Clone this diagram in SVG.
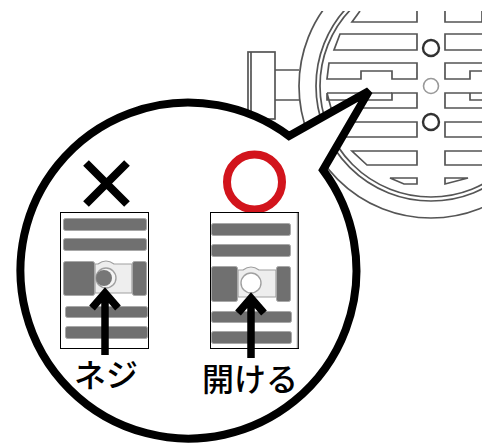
<svg xmlns="http://www.w3.org/2000/svg" width="483" height="446" viewBox="0 0 483 446">
<style>
.d{fill:none;stroke:#555;stroke-width:1.7}
.bar{fill:#6f6f6f;stroke:#a8a8a8;stroke-width:1}
.mid{fill:#eeeeee;stroke:#a0a0a0;stroke-width:1.2}
.frame{fill:#fff;stroke:#000;stroke-width:1}
.arrow{fill:none;stroke:#000;stroke-width:7.5;stroke-miterlimit:6}
.t{font-family:"Noto Sans CJK JP","Noto Sans",sans-serif;font-size:32px;font-weight:500;fill:#000}
</style>
<defs>
<filter id="soft" x="-5%" y="-5%" width="110%" height="110%"><feGaussianBlur stdDeviation="0.5"/></filter>
<filter id="soft2" x="-5%" y="-5%" width="110%" height="110%"><feGaussianBlur stdDeviation="0.7"/></filter>
<clipPath id="clip"><rect x="240" y="11" width="242" height="220"/></clipPath>
</defs>
<rect width="483" height="446" fill="#fff"/>
<g id="device" clip-path="url(#clip)" filter="url(#soft)">
<circle class="d" cx="431" cy="86" r="132"/>
<circle class="d" cx="431" cy="86" r="115"/>
<circle class="d" cx="431" cy="86" r="111"/>
<rect class="d" x="248" y="52" width="27" height="67"/>
<path class="d" d="M251 52V119M275 70H299M275 100H300"/>
<path class="d" d="M360 11L352 22H417V11"/>
<path class="d" d="M340 34H417V50H334Z"/>
<path class="d" d="M329 63H417V79H392V71H361V79H327Z"/>
<path class="d" d="M327 93V100H392V93H417V108H331Z"/>
<path class="d" d="M327 93H392"/>
<path class="d" d="M338 122H417V137H346Z"/>
<path class="d" d="M352 151H417V165H367Z"/>
<path class="d" d="M390 178H417V184H404Z"/>
<path class="d" d="M482 11V22H445V11M482 34H445V50H482M482 63H445V79H470V71H482M482 93H445V108H482M445 93H470V100H482M482 122H445V137H482M482 151H445V165H482M445 178H468L445 184Z"/>
<circle cx="431" cy="48" r="8" fill="none" stroke="#333" stroke-width="2.4"/>
<circle cx="431" cy="86" r="7.5" fill="none" stroke="#999" stroke-width="1.6"/>
<circle cx="431" cy="122" r="8" fill="none" stroke="#333" stroke-width="2.4"/>
</g>
<g id="bubble">
<path d="M289 136L369 91L323 170A168 168 0 1 1 289 136Z" fill="#fff" stroke="#000" stroke-width="8" stroke-miterlimit="3.5"/>
</g>
<g id="wrong">
<path d="M86 163L127 204M127 163L86 204" fill="none" stroke="#000" stroke-width="8"/>
<rect class="frame" x="60.5" y="212.5" width="88" height="136"/>
<g filter="url(#soft2)">
<rect class="bar" x="63.500" y="218.500" width="83" height="12" rx="2"/>
<rect class="bar" x="63.500" y="238.500" width="83" height="12" rx="2"/>
<path class="mid" d="M95 264H98Q106 258 114 264H132V293H95Z"/>
<rect class="bar" x="63.500" y="261.500" width="31" height="34" rx="2"/>
<rect class="bar" x="132.500" y="261.500" width="14" height="34" rx="2"/>
<circle cx="106" cy="278" r="10" fill="#f4f4f4" stroke="#a0a0a0" stroke-width="1.4"/>
<circle cx="104" cy="278" r="8" fill="#777"/>
<rect class="bar" x="65.500" y="306.500" width="82" height="11" rx="2"/>
<rect class="bar" x="65.500" y="326.500" width="82" height="12" rx="2"/>
</g>
<path class="arrow" d="M105 355V293M92 308L105 293L118 308"/>
<text class="t" x="74" y="387">ネジ</text>
</g>
<g id="right">
<circle cx="254.500" cy="182" r="27.500" fill="none" stroke="#d2141c" stroke-width="8"/>
<rect class="frame" x="210.500" y="212.500" width="88" height="136"/>
<path d="M297.500 213V348" stroke="#999" stroke-width="1.500"/>
<g filter="url(#soft2)">
<rect class="bar" x="211.500" y="223.500" width="79" height="12" rx="2"/>
<rect class="bar" x="211.500" y="244.500" width="79" height="12" rx="2"/>
<path class="mid" d="M238 270H243Q251 264 259 270H276V297H238Z"/>
<rect class="bar" x="211.500" y="266.500" width="26" height="35" rx="2"/>
<rect class="bar" x="276.500" y="266.500" width="14" height="35" rx="2"/>
<circle cx="251" cy="283" r="10" fill="#fff" stroke="#a0a0a0" stroke-width="1.4"/>
<rect class="bar" x="211.500" y="311.500" width="80" height="11" rx="2"/>
<rect class="bar" x="211.500" y="331.500" width="80" height="12" rx="2"/>
</g>
<path class="arrow" d="M251 358V298M238 313L251 298L264 313"/>
<text class="t" x="202" y="391">開ける</text>
</g>
</svg>
